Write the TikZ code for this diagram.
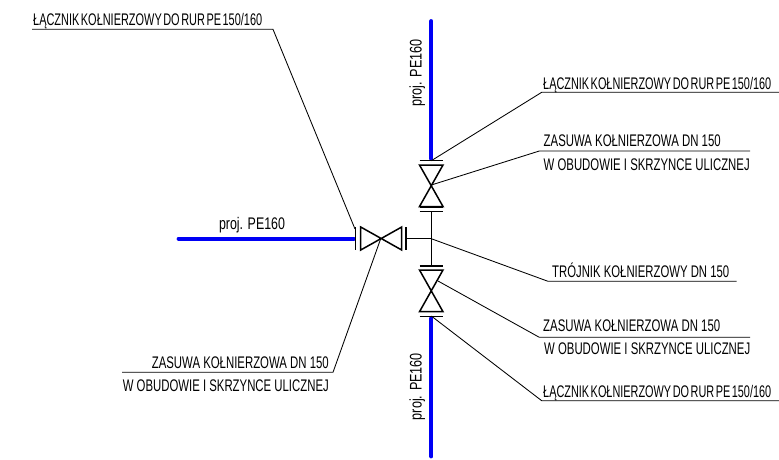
\documentclass[tikz,border=0pt]{standalone}
\usepackage{graphicx}
\usepackage{fontspec}
\setmainfont{Liberation Sans}
\newcommand{\fitw}[2]{\resizebox{#1pt}{\height}{#2}}
\newcommand{\tight}{\spaceskip=0.14em\relax}
\tikzset{
  lab/.style={inner sep=0pt,font=\fontsize{16.8}{18}\selectfont,text=black},
  pipe/.style={draw={rgb,255:red,0;green,0;blue,245},line width=3.8pt,line cap=round},
  lead/.style={draw=black,line width=0.85pt},
  fit1/.style={draw=black,line width=1.5pt},
  flange/.style={draw=black,line width=1.3pt},
}
\begin{document}
\begin{tikzpicture}[x=1pt,y=-1pt]
\useasboundingbox (0,0) rectangle (779,459);
% key points
\coordinate (top) at (431.3,21);
\coordinate (topP) at (431.3,158.8);
\coordinate (topF) at (431.3,160.7);
\coordinate (topC) at (431.3,185);
\coordinate (tee) at (431.3,238.7);
\coordinate (botE) at (438,281);
\coordinate (botF) at (431.3,316);
\coordinate (botP) at (431.3,318.4);
\coordinate (bot) at (431.3,456.5);
\coordinate (left) at (178.5,238.7);
\coordinate (leftP) at (354,238.7);
\coordinate (leftC) at (380.7,238.7);
\coordinate (leftT) at (355,229);
% leader knees
\coordinate (k1) at (273,29.3);   \coordinate (k1e) at (32,29.3);
\coordinate (k2) at (541.7,92.3); \coordinate (k2e) at (779,92.3);
\coordinate (k3) at (539.3,151);  \coordinate (k3e) at (750,151);
\coordinate (k4) at (548,281.3);  \coordinate (k4e) at (736.7,281.3);
\coordinate (k5) at (539.3,337.3);\coordinate (k5e) at (750,337.3);
\coordinate (k6) at (541.7,400.7);\coordinate (k6e) at (779,400.7);
\coordinate (k7) at (333,372.3);  \coordinate (k7e) at (122,372.3);
% pipes
\draw[pipe] (top) -- (topP);
\draw[pipe] (botP) -- (bot);
\draw[pipe] (left) -- (leftP);
% top valve
\draw[fit1] (419.5,165) -- (443,165) -- (419.5,206.5) -- (443,206.5) -- cycle;
\draw[flange] (419.5,160.7) -- (443,160.7);
\draw[flange] (419.5,207.5) -- (443,207.5) (419.5,211.7) -- (443,211.7);
% bottom valve
\draw[fit1] (419.5,270) -- (443,270) -- (419.5,311.7) -- (443,311.7) -- cycle;
\draw[flange] (419.5,266) -- (443,266);
\draw[flange] (419.5,316.5) -- (443,316.5);
% left valve
\draw[fit1] (360.7,227) -- (360.7,250) -- (401.7,227) -- (401.7,250) -- cycle;
\draw[flange] (355.7,227) -- (355.7,250);
\draw[flange] (406,227) -- (406,250);
% tee
\draw[fit1] (431.3,212) -- (431.3,266);
\draw[fit1] (406,238.7) -- (tee);
% leaders
\draw[lead] (k1e) -- (k1) -- (leftT);
\draw[lead] (k2e) -- (k2) -- (topF);
\draw[lead] (k3e) -- (k3) -- (topC);
\draw[lead] (k4e) -- (k4) -- (tee);
\draw[lead] (k5e) -- (k5) -- (botE);
\draw[lead] (k6e) -- (k6) -- (botF);
\draw[lead] (k7e) -- (k7) -- (leftC);
% labels
\node[lab,anchor=base west] (t1) at (33,25.5) {\tight\fitw{229}{ŁĄCZNIK KOŁNIERZOWY DO RUR PE 150/160}};
\node[lab,anchor=base west] (t2) at (543,89.5) {\tight\fitw{228}{ŁĄCZNIK KOŁNIERZOWY DO RUR PE 150/160}};
\node[lab,anchor=base west] (t3) at (543.5,146.7) {\fitw{177}{ZASUWA KOŁNIERZOWA DN 150}};
\node[lab,anchor=base west] (t4) at (543.5,170) {\fitw{206}{W OBUDOWIE I SKRZYNCE ULICZNEJ}};
\node[lab,anchor=base west] (t5) at (552,277.3) {\fitw{177}{TRÓJNIK KOŁNIERZOWY DN 150}};
\node[lab,anchor=base west] (t6) at (543,331) {\fitw{177}{ZASUWA KOŁNIERZOWA DN 150}};
\node[lab,anchor=base west] (t7) at (544,354.3) {\fitw{206}{W OBUDOWIE I SKRZYNCE ULICZNEJ}};
\node[lab,anchor=base west] (t8) at (543,397.5) {\tight\fitw{228}{ŁĄCZNIK KOŁNIERZOWY DO RUR PE 150/160}};
\node[lab,anchor=base east] (t9) at (329,368) {\fitw{177}{ZASUWA KOŁNIERZOWA DN 150}};
\node[lab,anchor=base east] (t10) at (329,391.7) {\fitw{206}{W OBUDOWIE I SKRZYNCE ULICZNEJ}};
\node[lab,anchor=base] (p1) at (252,229.5) {\fitw{66}{proj. PE160}};
\node[lab,anchor=base,rotate=90] (p2) at (421.5,73) {\fitw{67}{proj. PE160}};
\node[lab,anchor=base,rotate=90] (p3) at (421.5,386.5) {\fitw{67}{proj. PE160}};
\end{tikzpicture}
\end{document}
